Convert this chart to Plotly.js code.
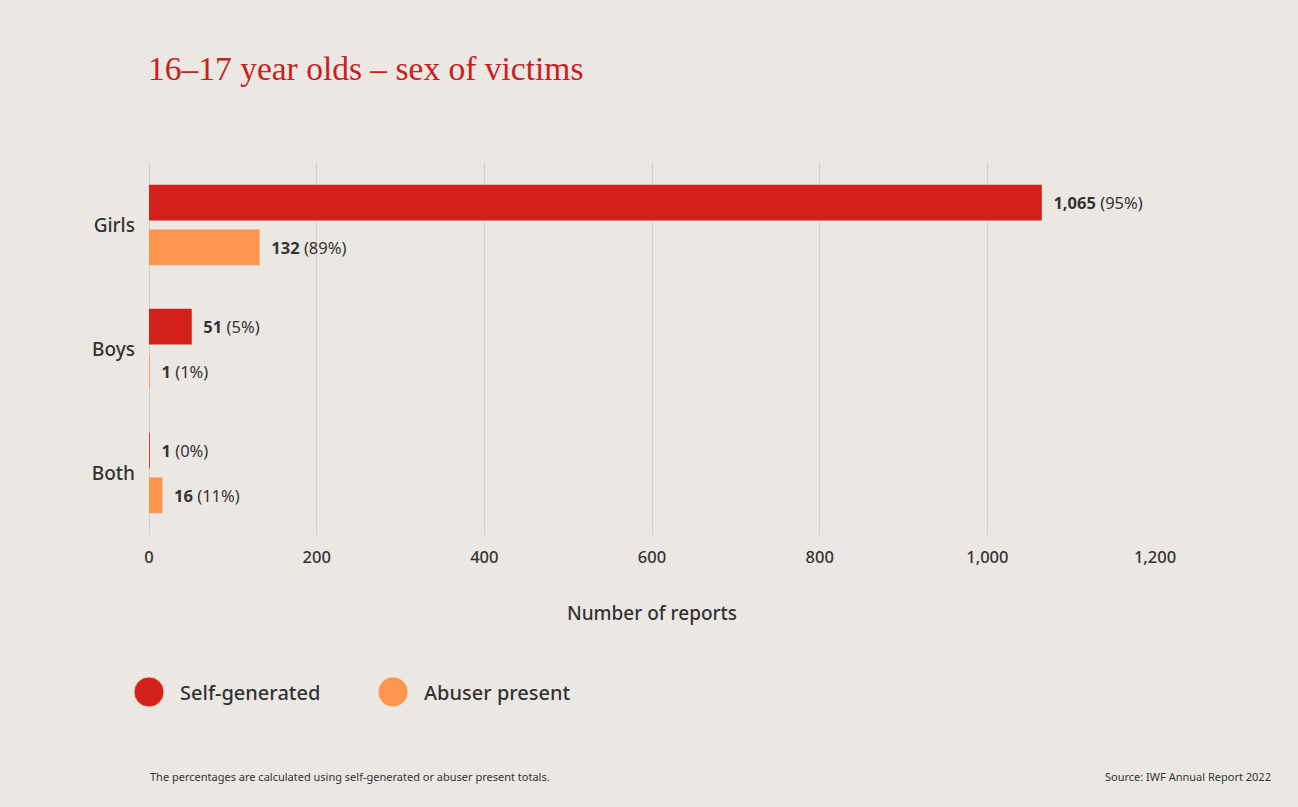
<!DOCTYPE html>
<html>
<head>
<meta charset="utf-8">
<script src="https://cdn.plot.ly/plotly-3.0.1.min.js"></script>
<style>html,body{margin:0;padding:0;background:#ebe8e3;}#chart{width:1298px;height:807px;}</style>
</head>
<body>
<div id="chart"></div>
<script>
const categories = ["Girls", "Boys", "Both"];
const selfGenerated = [1065, 51, 1];
const selfGeneratedPct = ["95%", "5%", "0%"];
const abuserPresent = [132, 1, 16];
const abuserPresentPct = ["89%", "1%", "11%"];
const xTickVals = [0, 200, 400, 600, 800, 1000, 1200];
const xTickText = ["0", "200", "400", "600", "800", "1,000", "1,200"];
const seriesNames = ["Self-generated", "Abuser present"];

const RED = "#d2201b";
const ORANGE = "#fd9450";
const TEXT = "#333333";
const FONT = "Noto Sans, Open Sans, sans-serif";

function fmt(v){ return v.toLocaleString("en-US"); }
function labels(vals, pcts){ return vals.map((v,i)=>"&nbsp;&nbsp;<b>"+fmt(v)+"</b> ("+pcts[i]+")"); }

const traces = [
  {type:"bar", orientation:"h", name:seriesNames[0], y:categories, x:selfGenerated,
   marker:{color:RED}, text:labels(selfGenerated, selfGeneratedPct), textposition:"outside",
   constraintext:"none", cliponaxis:false, textfont:{family:FONT, size:16.5, color:TEXT},
   showlegend:false, hoverinfo:"x+y"},
  {type:"bar", orientation:"h", name:seriesNames[1], y:categories, x:abuserPresent,
   marker:{color:ORANGE}, text:labels(abuserPresent, abuserPresentPct), textposition:"outside",
   constraintext:"none", cliponaxis:false, textfont:{family:FONT, size:16.5, color:TEXT},
   showlegend:false, hoverinfo:"x+y"}
];

function py(p){ return (535 - p)/372; }
function px(p){ return (p - 149)/1006; }

const layout = {
  width:1298, height:807,
  paper_bgcolor:"#ebe8e3", plot_bgcolor:"#ebe8e3",
  margin:{l:149, r:143, t:163, b:272},
  barmode:"group", bargap:0.28, bargroupgap:0.2,
  title:{text:"16–17 year olds – sex of victims", xref:"container", yref:"container",
         x:148/1298, xanchor:"left", y:1-68/807, yanchor:"middle",
         font:{family:"Liberation Serif, serif", size:33.5, color:"#c8201e"}},
  xaxis:{range:[0,1200], tickvals:xTickVals, ticktext:xTickText, showgrid:true,
         gridcolor:"#d3cfc9", gridwidth:1, zeroline:true, zerolinecolor:"#d3cfc9", zerolinewidth:1,
         showline:false, ticks:"", ticklabelstandoff:10,
         tickfont:{family:FONT, size:16.5, color:TEXT, weight:500},
         title:{text:"Number of reports", standoff:40, font:{family:FONT, size:19, color:TEXT, weight:500}},
         fixedrange:true},
  yaxis:{type:"category", autorange:"reversed", showgrid:false, zeroline:false, showline:false,
         ticks:"", ticklabelstandoff:13, tickfont:{family:FONT, size:19, color:TEXT, weight:500}, fixedrange:true},
  showlegend:false,
  shapes:[
    {type:"circle", xref:"paper", yref:"paper", xsizemode:"pixel", ysizemode:"pixel",
     xanchor:px(149), yanchor:py(692), x0:-15, x1:15, y0:-15, y1:15,
     fillcolor:RED, line:{color:"#f3c9b8", width:1}},
    {type:"circle", xref:"paper", yref:"paper", xsizemode:"pixel", ysizemode:"pixel",
     xanchor:px(393), yanchor:py(692), x0:-15, x1:15, y0:-15, y1:15,
     fillcolor:ORANGE, line:{color:"#fbd9c3", width:1}}
  ],
  annotations:[
    {text:seriesNames[0], xref:"paper", yref:"paper", x:px(178), y:py(692), xanchor:"left", yanchor:"middle",
     showarrow:false, font:{family:FONT, size:20, color:TEXT, weight:500}},
    {text:seriesNames[1], xref:"paper", yref:"paper", x:px(422), y:py(692), xanchor:"left", yanchor:"middle",
     showarrow:false, font:{family:FONT, size:20, color:TEXT, weight:500}},
    {text:"The percentages are calculated using self-generated or abuser present totals.", xref:"paper", yref:"paper",
     x:px(148), y:py(776), xanchor:"left", yanchor:"middle", showarrow:false,
     font:{family:FONT, size:11, color:TEXT}},
    {text:"Source: IWF Annual Report 2022", xref:"paper", yref:"paper",
     x:px(1273), y:py(776), xanchor:"right", yanchor:"middle", showarrow:false,
     font:{family:FONT, size:11, color:TEXT}}
  ],
  hovermode:false
};

Plotly.newPlot("chart", traces, layout, {displayModeBar:false, staticPlot:true});
</script>
</body>
</html>
